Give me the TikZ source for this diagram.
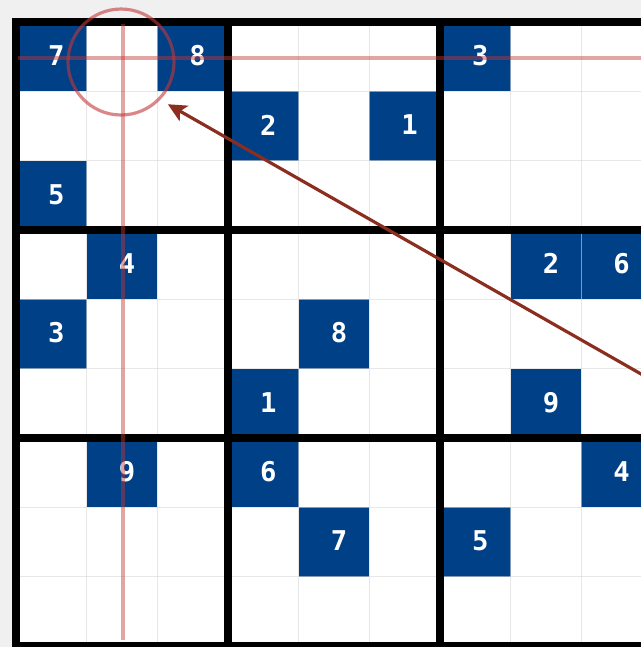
\documentclass[tikz,border=0pt]{standalone}
\usepackage{fontspec}
\usepackage{tikz}
\usetikzlibrary{arrows.meta}
\newfontfamily\digitfont{DejaVu Sans Mono}
\definecolor{azulcasa}{RGB}{0,64,135}
\definecolor{cinzafundo}{RGB}{240,240,240}
\definecolor{cinzalinha}{RGB}{215,215,215}
\definecolor{vermelhoguia}{RGB}{195,55,55}
\definecolor{vermelhoseta}{RGB}{139,46,32}
\tikzset{
  casa/.style={fill=azulcasa},
  digito/.style={inner sep=0pt,text=white,
    font=\digitfont\bfseries\fontsize{15.5}{16}\selectfont},
  fina/.style={draw=cinzalinha,line width=0.6pt,opacity=0.6},
  grossa/.style={draw=black,line width=4.5pt},
  guia/.style={draw=vermelhoguia,line width=2.1pt,opacity=0.45},
  foco/.style={circle,draw=vermelhoguia,line width=1.8pt,draw opacity=0.6,
    minimum size=2.12cm,inner sep=0pt},
  seta/.style={-{Stealth[length=10.5pt,width=10pt,inset=2.5pt]},
    line width=1.8pt,vermelhoseta}
}
\begin{document}
\begin{tikzpicture}[x=0.02cm,y=-0.02cm]
  \useasboundingbox (0,0) rectangle (641,647);
  \clip (0,0) rectangle (641,647);
  \fill[cinzafundo] (0,0) rectangle (641,647);
  \fill[white] (12,18) rectangle (660,660);
  % given digits
  \foreach \r/\c/\v in {0/0/7,0/2/8,0/6/3,1/3/2,1/5/1,2/0/5,3/1/4,3/7/2,3/8/6,
      4/0/3,4/4/8,5/3/1,5/7/9,6/1/9,6/3/6,6/8/4,7/4/7,7/6/5}
    {\fill[casa] (16+70.667*\c,22+69.333*\r) rectangle ++(70.667,69.333);
     \node[digito] (d\r\c) at (16+70.667*\c+40.3,22+69.333*\r+33.7) {\v};}
  % cell lines
  \foreach \i in {1,2,4,5,7,8}
    {\draw[fina] (16+70.667*\i,22) -- (16+70.667*\i,660);
     \draw[fina] (16,22+69.333*\i) -- (660,22+69.333*\i);}
  % box lines
  \foreach \k in {0,...,3}
    {\draw[grossa] (16+212*\k,18) -- (16+212*\k,660);
     \draw[grossa] (12,22+208*\k) -- (660,22+208*\k);}
  % row and column guides
  \coordinate (linhaini) at (18,58.3);
  \coordinate (linhafim) at (641,58.3);
  \coordinate (colini) at (123.3,24);
  \coordinate (colfim) at (123.3,640);
  \draw[guia] (linhaini) -- (linhafim);
  \draw[guia] (colini) -- (colfim);
  \node[foco] (alvo) at (121,62) {};
  \coordinate (origem) at (720,419);
  \draw[seta,shorten >=5pt] (origem) -- (alvo.316);
\end{tikzpicture}
\end{document}
